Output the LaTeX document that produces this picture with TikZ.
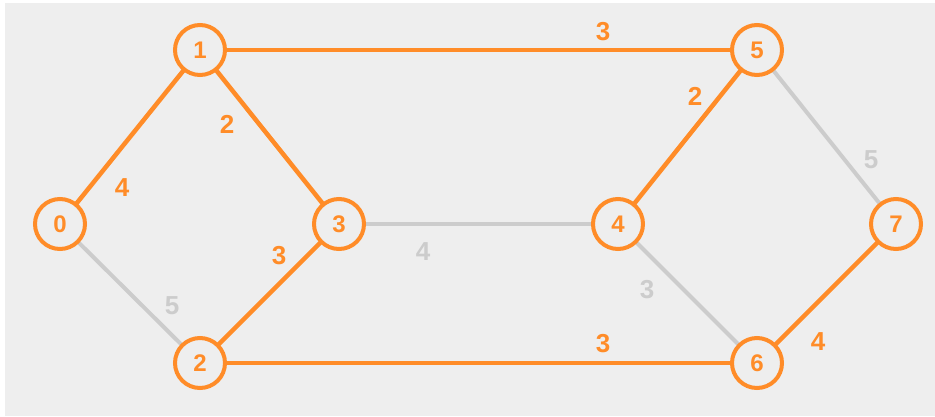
\documentclass[tikz,border=0pt]{standalone}
\usepackage{fontspec}
\setmainfont{Liberation Sans}
\definecolor{bg}{HTML}{EEEEEE}
\definecolor{org}{HTML}{FF8C28}
\definecolor{gry}{HTML}{CCCCCC}
\begin{document}
\begin{tikzpicture}[x=1pt,y=-1pt,
  vert/.style={circle,draw=org,line width=4pt,fill=bg,minimum size=50pt,inner sep=0pt,
    text=org,font=\fontsize{24}{24}\selectfont\bfseries},
  hot/.style={draw=org,line width=4.5pt},
  cold/.style={draw=gry,line width=4pt},
  hotw/.style={text=org,font=\fontsize{26}{26}\selectfont\bfseries},
  coldw/.style={text=gry,font=\fontsize{26}{26}\selectfont\bfseries}]
\useasboundingbox (0,0) rectangle (935,416);
\fill[white] (0,0) rectangle (935,416);
\fill[bg] (5,3) rectangle (935,416);
\coordinate (p0) at (60,224);
\coordinate (p1) at (200,50);
\coordinate (p2) at (200,363);
\coordinate (p3) at (339,224);
\coordinate (p4) at (618,224);
\coordinate (p5) at (757,50);
\coordinate (p6) at (757,363);
\coordinate (p7) at (896,224);
\draw[cold] (p0) -- (p2);
\draw[cold] (p3) -- (p4);
\draw[cold] (p4) -- (p6);
\draw[cold] (p5) -- (p7);
\draw[hot] (p0) -- (p1);
\draw[hot] (p1) -- (p3);
\draw[hot] (p1) -- (p5);
\draw[hot] (p2) -- (p3);
\draw[hot] (p2) -- (p6);
\draw[hot] (p4) -- (p5);
\draw[hot] (p6) -- (p7);
\node[vert] (n0) at (p0) {0};
\node[vert] (n1) at (p1) {1};
\node[vert] (n2) at (p2) {2};
\node[vert] (n3) at (p3) {3};
\node[vert] (n4) at (p4) {4};
\node[vert] (n5) at (p5) {5};
\node[vert] (n6) at (p6) {6};
\node[vert] (n7) at (p7) {7};
\node[hotw] (w15) at (603,32) {3};
\node[hotw] (w45) at (695,96) {2};
\node[coldw] (w57) at (871,160) {5};
\node[hotw] (w01) at (122,188) {4};
\node[hotw] (w13) at (227,124) {2};
\node[hotw] (w23) at (279,256) {3};
\node[coldw] (w02) at (172,306) {5};
\node[coldw] (w34) at (423,252) {4};
\node[coldw] (w46) at (647,290) {3};
\node[hotw] (w26) at (603,344) {3};
\node[hotw] (w67) at (818,342) {4};
\end{tikzpicture}
\end{document}
